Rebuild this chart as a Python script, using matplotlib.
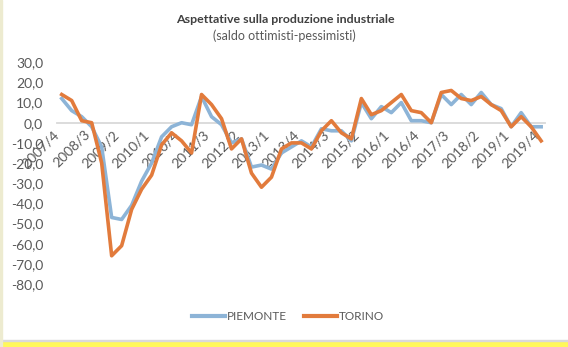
import matplotlib.pyplot as plt
from matplotlib.patches import Rectangle
from matplotlib.lines import Line2D

plt.rcParams['font.family'] = ['Lato', 'DejaVu Sans']

quarters = [f"{y}/{q}" for y in range(2007, 2020) for q in range(1, 5)][3:]
piemonte = [12, 6, 3, -2, -12, -47, -48, -41, -29, -20, -7, -2, 0, -1, 13, 3,
            -1, -10, -8, -22, -21, -23, -15, -12, -9, -12, -3, -4, -4, -9, 10, 2,
            8, 5, 10, 1, 1, 0, 14, 9, 14, 9, 15, 9, 7, -2, 5, -2, -2]
torino = [14, 11, 1, 0, -20, -66, -61, -43, -33, -26, -11, -5, -9, -15, 14, 9,
          2, -13, -8, -25, -32, -27, -13, -10, -10, -13, -4, 1, -5, -8, 12, 4,
          6, 10, 14, 6, 5, 0, 15, 16, 12, 11, 13, 9, 6, -2, 3, -2, -9]
yticks = [30, 20, 10, 0, -10, -20, -30, -40, -50, -60, -70, -80]

fig = plt.figure(figsize=(5.68, 3.47), dpi=100)
ax = fig.add_axes([0.1004, 0.1816, 0.859, 0.639])

x = list(range(len(quarters)))
ax.plot(x, piemonte, color='#8DB4D7', lw=2.6, label='PIEMONTE', solid_joinstyle='round')
ax.plot(x, torino, color='#E27B3C', lw=2.6, label='TORINO', solid_joinstyle='round')

ax.set_xlim(-0.47, 48.38)
ax.set_ylim(-80, 30)
ax.set_yticks(yticks)
ax.set_yticklabels([f"{v:.1f}".replace('.', ',') for v in yticks])
ax.set_xticks(x[::3])
ax.set_xticklabels(quarters[::3])

for s in ['top', 'right', 'left']:
    ax.spines[s].set_visible(False)
ax.spines['bottom'].set_position(('data', 0))
ax.spines['bottom'].set_color('#D9D9D9')
ax.spines['bottom'].set_linewidth(1.3)
ax.spines['bottom'].set_zorder(0)
ax.tick_params(axis='both', length=0, labelsize=10, labelcolor='#595959')
ax.tick_params(axis='y', pad=10)
ax.tick_params(axis='x', pad=4)
for lbl in ax.get_xticklabels():
    lbl.set_rotation(45)
    lbl.set_ha('right')
    lbl.set_va('top')

fig.text(0.502, 0.945, 'Aspettative sulla produzione industriale', ha='center', va='center',
         fontsize=8.9, fontweight='bold', color='#404040')
fig.text(0.5, 0.898, '(saldo ottimisti-pessimisti)', ha='center', va='center',
         fontsize=9, color='#595959')

handles = [Line2D([], [], color='#8DB4D7', lw=3), Line2D([], [], color='#E27B3C', lw=3)]
leg = fig.legend(handles, ['PIEMONTE', 'TORINO'], loc='center', bbox_to_anchor=(0.507, 0.087),
                 ncol=2, frameon=False, fontsize=8.5, handlelength=2.8, handletextpad=0.2,
                 columnspacing=1.4)
for t in leg.get_texts():
    t.set_color('#595959')

# yellow strip at the bottom and thin border on the left
fig.patches.append(Rectangle((0, 0), 1, 0.016, transform=fig.transFigure, color='#FFF85A', zorder=-1))
fig.patches.append(Rectangle((0, 0.016), 1, 0.004, transform=fig.transFigure, color='#D9D9D9', zorder=-1))
fig.patches.append(Rectangle((0, 0), 0.004, 1, transform=fig.transFigure, color='#EDEBD0', zorder=-1))

fig.savefig('out.png', dpi=100)
